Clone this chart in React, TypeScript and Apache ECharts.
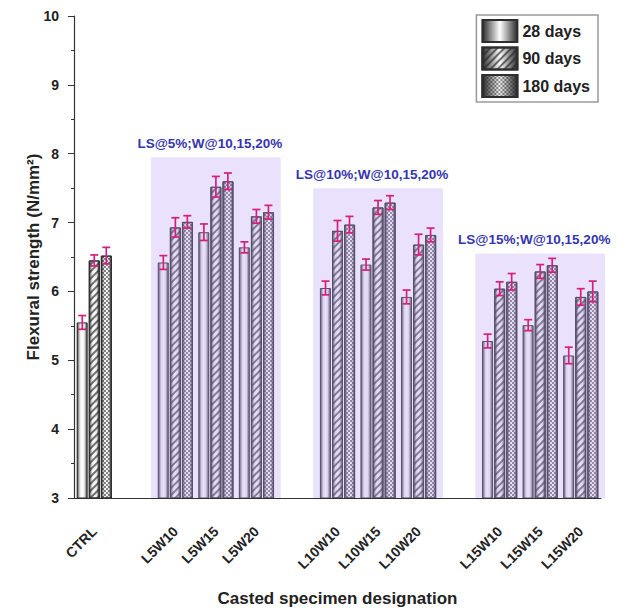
import React, { useEffect, useRef } from "react";
import * as echarts from "echarts";

// Specimen designations along the x axis (blank slots separate the groups)
const categories = [
  "CTRL", " ", "L5W10", "L5W15", "L5W20", "  ",
  "L10W10", "L10W15", "L10W20", "   ",
  "L15W10", "L15W15", "L15W20",
];

const seriesNames = ["28 days", "90 days", "180 days"];

// Flexural strength (N/mm²)
const days28 = [5.55, null, 6.42, 6.86, 6.64, null, 6.05, 6.39, 5.92, null, 5.28, 5.51, 5.07];
const days90 = [6.45, null, 6.93, 7.52, 7.09, null, 6.88, 7.22, 6.68, null, 6.04, 6.29, 5.92];
const days180 = [6.52, null, 7.01, 7.6, 7.15, null, 6.97, 7.29, 6.82, null, 6.14, 6.38, 6.0];

// Standard deviations
const err28 = [0.1, null, 0.1, 0.12, 0.08, null, 0.1, 0.08, 0.1, null, 0.1, 0.08, 0.12];
const err90 = [0.08, null, 0.14, 0.15, 0.1, null, 0.15, 0.1, 0.15, null, 0.1, 0.1, 0.12];
const err180 = [0.12, null, 0.09, 0.12, 0.1, null, 0.12, 0.1, 0.1, null, 0.12, 0.1, 0.15];

// Shaded replacement groups (x in category index units)
const regionStart = [1.4, 5.4, 9.4];
const regionEnd = [4.6, 8.6, 12.6];
const regionTop = [7.95, 7.5, 6.55];
const regionLabels = ["LS@5%;W@10,15,20%", "LS@10%;W@10,15,20%", "LS@15%;W@10,15,20%"];

const yTicks = { min: 3, max: 10, interval: 1 };

const FONT = "'Liberation Sans', Arial, sans-serif";
const BAR_W = 11;
const BAR_STEP = 12;

export default function App() {
  const ref = useRef<HTMLDivElement>(null);

  useEffect(() => {
    if (!ref.current) return;
    const chart = echarts.init(ref.current, null, { renderer: "svg" });

    const barGrad = () =>
      new echarts.graphic.LinearGradient(0, 0, 1, 0, [
        { offset: 0, color: "#3c3c3c" },
        { offset: 0.28, color: "#e8e8e8" },
        { offset: 0.5, color: "#ffffff" },
        { offset: 0.72, color: "#e8e8e8" },
        { offset: 1, color: "#3c3c3c" },
      ]);

    const legendGrad = () =>
      new echarts.graphic.LinearGradient(0, 0, 1, 0, [
        { offset: 0, color: "#2a2a2a" },
        { offset: 0.5, color: "#ffffff" },
        { offset: 1, color: "#2a2a2a" },
      ]);

    // 90 days: rising diagonal hatch; 180 days: fine checker dots
    const decals: any[] = [
      null,
      {
        symbol: "rect",
        symbolSize: 1,
        dashArrayX: [1, 0],
        dashArrayY: [2, 3],
        rotation: -Math.PI / 4,
        color: "rgba(40,40,40,0.65)",
      },
      {
        symbol: "rect",
        symbolSize: 1,
        dashArrayX: [[2, 2], [0, 2, 2, 0]],
        dashArrayY: [2, 0],
        color: "rgba(40,40,40,0.55)",
      },
    ];

    const values = [days28, days90, days180];
    const errs = [err28, err90, err180];

    const barSeries = values.map((vals, k) => ({
      name: seriesNames[k],
      type: "bar",
      xAxisIndex: 0,
      yAxisIndex: 0,
      data: vals,
      barWidth: BAR_W,
      barGap: "10%",
      z: 2,
      itemStyle: {
        color: barGrad(),
        borderColor: "#2e2e2e",
        borderWidth: 1,
        decal: decals[k] || undefined,
      },
    }));

    const errData: any[] = [];
    values.forEach((vals, k) => {
      vals.forEach((v, i) => {
        if (v != null && errs[k][i] != null) errData.push([i, v, errs[k][i], k]);
      });
    });

    const errorSeries = {
      type: "custom",
      xAxisIndex: 0,
      yAxisIndex: 0,
      z: 6,
      silent: true,
      data: errData,
      renderItem: (params: any, api: any) => {
        const i = api.value(0);
        const v = api.value(1);
        const e = api.value(2);
        const k = api.value(3);
        const x = api.coord([i, v])[0] + (k - 1) * BAR_STEP;
        const yTop = api.coord([i, v + e])[1];
        const yBot = api.coord([i, v - e])[1];
        const cap = 4;
        const style = { stroke: "#d4207c", lineWidth: 1.7 };
        return {
          type: "group",
          children: [
            { type: "line", shape: { x1: x, y1: yTop, x2: x, y2: yBot }, style },
            { type: "line", shape: { x1: x - cap, y1: yTop, x2: x + cap, y2: yTop }, style },
            { type: "line", shape: { x1: x - cap, y1: yBot, x2: x + cap, y2: yBot }, style },
          ],
        };
      },
    };

    const regionData = regionStart.map((s, i) => [s, regionEnd[i], regionTop[i], i]);

    const regionSeries = {
      type: "custom",
      xAxisIndex: 2,
      yAxisIndex: 0,
      z: 4,
      silent: true,
      clip: false,
      data: regionData,
      renderItem: (params: any, api: any) => {
        const idx = api.value(3);
        const p0 = api.coord([api.value(0), api.value(2)]);
        const p1 = api.coord([api.value(1), yTicks.min]);
        return {
          type: "group",
          children: [
            {
              type: "rect",
              shape: { x: p0[0], y: p0[1], width: p1[0] - p0[0], height: p1[1] - p0[1] },
              style: { fill: "rgba(185,160,245,0.30)" },
            },
            {
              type: "text",
              x: (p0[0] + p1[0]) / 2 - 6,
              y: p0[1] - 7,
              style: {
                text: regionLabels[idx],
                fill: "#3636b0",
                font: `bold 13.5px ${FONT}`,
                align: "center",
                verticalAlign: "bottom",
              },
            },
          ],
        };
      },
    };

    chart.setOption({
      animation: false,
      backgroundColor: "#ffffff",
      grid: { left: 74, right: 27, top: 16, bottom: 113 },
      legend: {
        orient: "vertical",
        right: 30,
        top: 15,
        icon: "rect",
        data: seriesNames.map((n) => ({ name: n, itemStyle: { color: legendGrad() } })),
        itemWidth: 35,
        itemHeight: 22,
        itemGap: 3.5,
        padding: [4, 8, 4, 5],
        borderColor: "#9a9a9a",
        borderWidth: 1.5,
        textStyle: { fontFamily: FONT, fontWeight: "bold", fontSize: 16, color: "#222" },
      },
      xAxis: [
        {
          type: "category",
          data: categories,
          position: "bottom",
          boundaryGap: true,
          axisLine: { onZero: false, lineStyle: { color: "#333", width: 1.2 } },
          axisTick: { alignWithLabel: true, interval: 0, length: 7, lineStyle: { color: "#333" } },
          axisLabel: {
            interval: 0,
            rotate: 45,
            margin: 31,
            verticalAlign: "middle",
            fontFamily: FONT,
            fontWeight: "bold",
            fontSize: 14,
            color: "#222",
          },
          name: "Casted specimen designation",
          nameLocation: "middle",
          nameGap: 92,
          nameMoveOverlap: false,
          nameTextStyle: { fontFamily: FONT, fontWeight: "bold", fontSize: 17, color: "#222" },
        },
        {
          type: "category",
          data: categories,
          position: "bottom",
          boundaryGap: true,
          axisLine: { show: false, onZero: false },
          axisTick: { interval: 0, length: 4, lineStyle: { color: "#333" } },
          axisLabel: { show: false },
        },
        {
          type: "value",
          min: -0.5,
          max: 12.5,
          show: false,
        },
      ],
      yAxis: {
        type: "value",
        min: yTicks.min,
        max: yTicks.max,
        interval: yTicks.interval,
        axisLine: { show: true, onZero: false, lineStyle: { color: "#333", width: 1.2 } },
        axisTick: { show: true, length: 6, lineStyle: { color: "#333" } },
        minorTick: { show: true, splitNumber: 2, length: 3, lineStyle: { color: "#333" } },
        splitLine: { show: false },
        axisLabel: { fontFamily: FONT, fontWeight: "bold", fontSize: 14, color: "#222", margin: 15 },
        name: "Flexural strength (N/mm²)",
        nameLocation: "middle",
        nameGap: 32,
        nameMoveOverlap: false,
        nameTextStyle: { fontFamily: FONT, fontWeight: "bold", fontSize: 17, color: "#222" },
      },
      series: [...barSeries, regionSeries, errorSeries],
    });

    return () => chart.dispose();
  }, []);

  return <div ref={ref} style={{ width: 628, height: 612, position: "absolute", left: 0, top: 0 }} />;
}
